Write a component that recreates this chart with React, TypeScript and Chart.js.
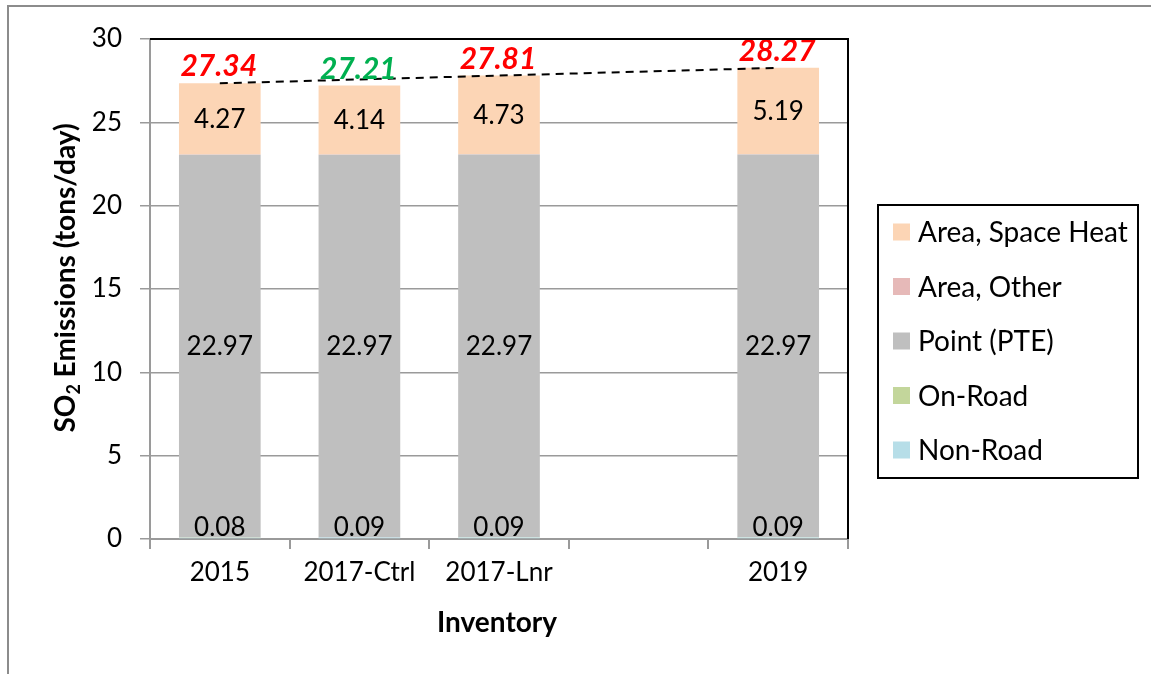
import React, { useEffect, useRef } from 'react';
import { Chart, registerables } from 'chart.js';

Chart.register(...registerables);

const categories = ['2015', '2017-Ctrl', '2017-Lnr', '', '2019'];
const nonRoad = [0.08, 0.09, 0.09, null, 0.09];
const onRoad = [0.01, 0.0, 0.01, null, 0.01];
const pointPTE = [22.97, 22.97, 22.97, null, 22.97];
const areaOther = [0.01, 0.01, 0.01, null, 0.01];
const areaSpaceHeat = [4.27, 4.14, 4.73, null, 5.19];
const totals = [27.34, 27.21, 27.81, null, 28.27];
const totalColors = ['#FF0000', '#00B050', '#FF0000', '#FF0000', '#FF0000'];
const trend = [27.34, null, null, null, 28.27];

const seriesNames = ['Non-Road', 'On-Road', 'Point (PTE)', 'Area, Other', 'Area, Space Heat'];
const seriesColors = ['#B7DEE8', '#C3D69B', '#BFBFBF', '#E6B9B8', '#FCD5B5'];
const seriesData = [nonRoad, onRoad, pointPTE, areaOther, areaSpaceHeat];
const labelledSeries = [0, 2, 4];

const FONT = 'Lato, "Open Sans", sans-serif';
const AXIS_GRAY = '#9a9a9a';

const W = 1151;
const H = 674;

const fmt = (v: number) => v.toFixed(2);

const customPlugin = {
  id: 'custom',
  beforeDraw(chart: any) {
    const ctx = chart.ctx;
    ctx.save();
    ctx.fillStyle = '#ffffff';
    ctx.fillRect(0, 0, W, H);
    ctx.strokeStyle = '#8c8c8c';
    ctx.lineWidth = 2;
    ctx.beginPath();
    ctx.moveTo(8, H);
    ctx.lineTo(8, 6);
    ctx.lineTo(W, 6);
    ctx.stroke();
    ctx.restore();
  },
  afterDatasetsDraw(chart: any) {
    const ctx = chart.ctx;
    const x = chart.scales.x;
    const y = chart.scales.y;
    const ca = chart.chartArea;
    ctx.save();

    // segment labels
    ctx.font = `26px ${FONT}`;
    ctx.fillStyle = '#000';
    ctx.textAlign = 'center';
    labelledSeries.forEach((si) => {
      const meta = chart.getDatasetMeta(si);
      meta.data.forEach((bar: any, i: number) => {
        const v = seriesData[si][i];
        if (v === null || v === undefined) return;
        if (si === 0) {
          ctx.textBaseline = 'alphabetic';
          ctx.fillText(fmt(v), bar.x, y.getPixelForValue(0) - 3);
        } else {
          ctx.textBaseline = 'middle';
          ctx.fillText(fmt(v), bar.x, (bar.y + bar.base) / 2 + 1);
        }
      });
    });

    // totals
    ctx.font = `italic bold 30px ${FONT}`;
    ctx.textBaseline = 'alphabetic';
    totals.forEach((t, i) => {
      if (t === null) return;
      ctx.fillStyle = totalColors[i];
      ctx.fillText(fmt(t), x.getPixelForValue(i) - 1, y.getPixelForValue(t) - 7);
    });

    // top & right plot border
    ctx.strokeStyle = '#000';
    ctx.lineWidth = 2;
    ctx.beginPath();
    ctx.moveTo(ca.left, ca.top);
    ctx.lineTo(ca.right, ca.top);
    ctx.lineTo(ca.right, ca.bottom);
    ctx.stroke();

    // legend
    const lx = 878, ly = 205, lw = 260, lh = 273;
    ctx.strokeRect(lx, ly, lw, lh);
    ctx.font = `28px ${FONT}`;
    ctx.textAlign = 'left';
    ctx.textBaseline = 'middle';
    const order = [4, 3, 2, 1, 0];
    order.forEach((si, k) => {
      const cy = 232 + k * 54.5;
      ctx.fillStyle = seriesColors[si];
      ctx.fillRect(893, cy - 8.5, 17, 17);
      ctx.fillStyle = '#000';
      ctx.fillText(seriesNames[si], 918, cy + 1);
    });

    // x title
    ctx.font = `bold 28px ${FONT}`;
    ctx.textAlign = 'center';
    ctx.textBaseline = 'alphabetic';
    ctx.fillText('Inventory', 497, 632);

    // y title with subscript
    ctx.translate(66, 278);
    ctx.rotate(-Math.PI / 2);
    const big = `bold 28px ${FONT}`;
    const small = `bold 18px ${FONT}`;
    ctx.font = big;
    const w1 = ctx.measureText('SO').width;
    const w3 = ctx.measureText(' Emissions (tons/day)').width;
    ctx.font = small;
    const w2 = ctx.measureText('2').width;
    let sx = -(w1 + w2 + w3) / 2;
    ctx.textAlign = 'left';
    ctx.textBaseline = 'middle';
    ctx.font = big;
    ctx.fillText('SO', sx, 0);
    sx += w1;
    ctx.font = small;
    ctx.fillText('2', sx, 8);
    sx += w2;
    ctx.font = big;
    ctx.fillText(' Emissions (tons/day)', sx, 0);
    ctx.restore();
  },
};

export default function App() {
  const ref = useRef<HTMLCanvasElement | null>(null);
  useEffect(() => {
    if (!ref.current) return;
    const datasets: any[] = seriesData.map((d, i) => ({
      type: 'bar',
      label: seriesNames[i],
      data: d,
      backgroundColor: seriesColors[i],
      borderWidth: 0,
      stack: 'inv',
      barPercentage: 0.585,
      categoryPercentage: 1,
      order: 2,
    }));
    datasets.push({
      type: 'line',
      label: 'trend',
      data: trend,
      borderColor: '#000',
      borderWidth: 2,
      borderDash: [8, 6],
      pointRadius: 0,
      spanGaps: true,
      fill: false,
      stack: 'trend',
      order: 1,
    });
    const chart = new Chart(ref.current, {
      type: 'bar',
      data: { labels: categories, datasets },
      options: {
        animation: false,
        responsive: false,
        devicePixelRatio: 1,
        layout: { padding: { left: 0, top: 39, right: W - 848, bottom: 0 } },
        plugins: { legend: { display: false }, tooltip: { enabled: false }, title: { display: false } },
        scales: {
          x: {
            stacked: true,
            grid: {
              display: true,
              drawOnChartArea: false,
              drawTicks: true,
              tickLength: 10,
              color: AXIS_GRAY,
              lineWidth: 2,
              offset: true,
            },
            border: { color: AXIS_GRAY, width: 2 },
            ticks: { font: { family: FONT, size: 26 }, color: '#000', padding: 8, autoSkip: false, maxRotation: 0 },
            afterFit: (s: any) => {
              s.height = 135;
            },
          },
          y: {
            stacked: true,
            min: 0,
            max: 30,
            ticks: { stepSize: 5, font: { family: FONT, size: 26 }, color: '#000', padding: 18 },
            grid: { color: AXIS_GRAY, lineWidth: 1.5, tickLength: 10 },
            border: { color: AXIS_GRAY, width: 2 },
            afterFit: (s: any) => {
              s.width = 150;
            },
          },
        },
      },
      plugins: [customPlugin],
    });
    return () => chart.destroy();
  }, []);
  return (
    <div style={{ position: 'absolute', left: 0, top: 0, width: W, height: H }}>
      <canvas ref={ref} width={W} height={H} style={{ display: 'block', width: W, height: H }} />
    </div>
  );
}
